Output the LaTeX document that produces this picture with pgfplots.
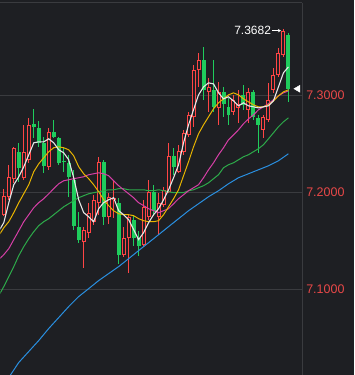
\documentclass[border=0pt]{standalone}
\usepackage{pgfplots}
\pgfplotsset{compat=1.18}
\usepackage{pgfplotstable}
\usetikzlibrary{arrows.meta}
\usepackage{fontspec}
\setmainfont{Liberation Sans}
\definecolor{bg}{HTML}{1E1F23}
\definecolor{gridc}{HTML}{3A3B3F}
\definecolor{upred}{HTML}{FF4545}
\definecolor{dngreen}{HTML}{1FCC5C}
\definecolor{lblred}{HTML}{E84848}
\definecolor{maA}{HTML}{E6E6E6}
\definecolor{maB}{HTML}{E8B400}
\definecolor{maC}{HTML}{D63FA6}
\definecolor{maD}{HTML}{2DAA4A}
\definecolor{maE}{HTML}{2A8FE0}

\pgfplotstableread{
i o h l c
0 7.1770 7.2038 7.1760 7.1958
1 7.1955 7.2285 7.1924 7.2161
2 7.2141 7.2470 7.2099 7.2460
4 7.2151 7.2696 7.2130 7.2419
5 7.2336 7.2768 7.2305 7.2696
9 7.2264 7.2666 7.2233 7.2624
16 7.1492 7.1647 7.1225 7.1616
17 7.1585 7.1894 7.1533 7.1791
18 7.1698 7.1976 7.1667 7.1924
19 7.1894 7.2367 7.1770 7.2316
21 7.1749 7.1997 7.1677 7.1955
22 7.1924 7.2130 7.1739 7.1945
24 7.1358 7.1647 7.1338 7.1533
25 7.1533 7.1770 7.1173 7.1749
28 7.1461 7.1924 7.1441 7.1852
29 7.1749 7.2130 7.1719 7.2007
31 7.1749 7.1997 7.1564 7.1894
32 7.1873 7.2058 7.1852 7.2027
33 7.2007 7.2511 7.1997 7.2377
35 7.2213 7.2491 7.2202 7.2429
36 7.2419 7.2645 7.2388 7.2614
37 7.2593 7.2830 7.2573 7.2799
38 7.2779 7.3314 7.2676 7.3262
39 7.3262 7.3437 7.3087 7.3365
41 7.3036 7.3180 7.2830 7.3087
43 7.2871 7.3139 7.2696 7.3036
46 7.2830 7.3005 7.2799 7.2954
47 7.2871 7.3057 7.2717 7.2913
49 7.2851 7.3077 7.2717 7.3036
52 7.2645 7.2799 7.2563 7.2779
53 7.2748 7.3129 7.2727 7.2954
54 7.3057 7.3283 7.3026 7.3211
55 7.3211 7.3489 7.3190 7.3437
56 7.3417 7.3682 7.3396 7.3664
}\up

\pgfplotstableread{
i o h l c
3 7.2419 7.2511 7.2110 7.2254
6 7.2707 7.2861 7.2563 7.2676
7 7.2666 7.2738 7.2470 7.2511
8 7.2511 7.2573 7.2202 7.2274
10 7.2624 7.2748 7.2563 7.2573
11 7.2563 7.2573 7.2285 7.2305
12 7.2326 7.2470 7.2213 7.2316
13 7.2305 7.2388 7.1955 7.2161
14 7.2130 7.2233 7.1616 7.1657
15 7.1647 7.1801 7.1482 7.1513
20 7.2316 7.2336 7.1667 7.1749
23 7.1894 7.1945 7.1266 7.1358
26 7.1719 7.1770 7.1451 7.1533
27 7.1533 7.1605 7.1348 7.1451
30 7.2007 7.2079 7.1760 7.1811
34 7.2377 7.2460 7.2182 7.2264
40 7.3365 7.3499 7.2954 7.3057
42 7.3057 7.3365 7.2830 7.2882
44 7.3036 7.3087 7.2779 7.2913
45 7.2882 7.2974 7.2696 7.2799
48 7.3005 7.3108 7.2851 7.2902
50 7.3036 7.3057 7.2748 7.2779
51 7.2768 7.2799 7.2408 7.2696
57 7.3623 7.3643 7.2933 7.3068
}\down

\begin{document}
\begin{tikzpicture}
\fill[bg] (0,0) rectangle (354bp,375bp);
\begin{axis}[at={(0,0)}, anchor=south west, scale only axis,
  width=302bp, height=372bp,
  xmin=-0.66, xmax=59.74, ymin=7.0123, ymax=7.3952,
  axis line style={draw=none}, xtick=\empty, ytick={7.1,7.2,7.3},
  yticklabel pos=right, ymajorgrids,
  grid style={draw=gridc, line width=1bp},
  major tick length=0pt,
  yticklabel style={text=lblred, font=\fontsize{12.5bp}{14bp}\selectfont,
    anchor=west, inner sep=0pt, xshift=4bp,
    /pgf/number format/fixed, /pgf/number format/fixed zerofill,
    /pgf/number format/precision=4, /pgf/number format/assume math mode=true},
  clip mode=individual,
]
% wicks
\addplot[draw=none, mark=none, forget plot,
  error bars/.cd, y dir=plus, y explicit, error mark=none,
  error bar style={draw=upred, line width=1bp, solid}]
  table[x=i, y=l, y error plus expr=\thisrow{h}-\thisrow{l}] {\up};
\addplot[draw=none, mark=none, forget plot,
  error bars/.cd, y dir=plus, y explicit, error mark=none,
  error bar style={draw=dngreen, line width=1bp, solid}]
  table[x=i, y=l, y error plus expr=\thisrow{h}-\thisrow{l}] {\down};
% up bodies (hollow)
\addplot[draw=none, mark=none, forget plot,
  error bars/.cd, y dir=plus, y explicit, error mark=none,
  error bar style={draw=upred, line width=4bp, solid}]
  table[x=i, y=o, y error plus expr=\thisrow{c}-\thisrow{o}] {\up};
\addplot[draw=none, mark=none, forget plot,
  error bars/.cd, y dir=plus, y explicit, error mark=none,
  error bar style={draw=bg, line width=2bp, solid}]
  table[x=i, y expr=\thisrow{o}+0.00103, y error plus expr={max(\thisrow{c}-\thisrow{o}-0.00206,0)}] {\up};
% down bodies (filled)
\addplot[draw=none, mark=none, forget plot,
  error bars/.cd, y dir=plus, y explicit, error mark=none,
  error bar style={draw=dngreen, line width=4bp, solid}]
  table[x=i, y=c, y error plus expr=\thisrow{o}-\thisrow{c}] {\down};

% MA lines
\addplot[maE, line width=1bp, mark=none] table {
-1 6.9989
1 7.0092
3 7.0247
5 7.0360
7 7.0473
9 7.0597
11 7.0710
13 7.0823
15 7.0926
17 7.1008
19 7.1091
21 7.1163
23 7.1235
25 7.1317
27 7.1400
29 7.1482
31 7.1564
33 7.1647
35 7.1729
37 7.1811
39 7.1883
41 7.1955
43 7.2017
45 7.2089
47 7.2151
49 7.2192
51 7.2233
53 7.2274
55 7.2326
57 7.2398
};
\addplot[maD, line width=1bp, mark=none] table {
-1 7.0936
0 7.1029
1 7.1132
2 7.1235
3 7.1348
4 7.1441
5 7.1523
6 7.1595
7 7.1657
8 7.1698
9 7.1729
10 7.1770
11 7.1811
12 7.1852
13 7.1883
14 7.1914
15 7.1945
16 7.1966
17 7.1986
18 7.1997
19 7.2007
20 7.2017
21 7.2027
22 7.2027
23 7.2038
24 7.2038
25 7.2027
26 7.2027
27 7.2027
28 7.2027
29 7.2017
30 7.2017
31 7.2027
32 7.2017
33 7.2007
34 7.1997
35 7.1997
36 7.1997
37 7.2017
38 7.2027
39 7.2048
40 7.2069
41 7.2099
42 7.2141
43 7.2182
44 7.2254
45 7.2285
46 7.2305
47 7.2336
48 7.2367
49 7.2388
50 7.2419
51 7.2450
52 7.2491
53 7.2552
54 7.2614
55 7.2676
56 7.2727
57 7.2768
};
\addplot[maC, line width=1bp, mark=none] table {
-1 7.1307
0 7.1358
1 7.1420
2 7.1513
3 7.1605
4 7.1698
5 7.1770
6 7.1842
7 7.1894
8 7.1935
9 7.1986
10 7.2038
11 7.2089
12 7.2120
13 7.2130
14 7.2141
15 7.2151
16 7.2161
17 7.2182
18 7.2192
19 7.2202
20 7.2192
21 7.2172
22 7.2120
23 7.2069
24 7.2027
25 7.1986
26 7.1945
27 7.1894
28 7.1863
29 7.1832
30 7.1811
31 7.1791
32 7.1811
33 7.1832
34 7.1883
35 7.1935
36 7.1976
37 7.2017
38 7.2048
39 7.2079
40 7.2151
41 7.2233
42 7.2305
43 7.2388
44 7.2460
45 7.2542
46 7.2593
47 7.2645
48 7.2707
49 7.2758
50 7.2799
51 7.2851
52 7.2882
53 7.2913
54 7.2954
55 7.2995
56 7.3026
57 7.3046
};
\addplot[maB, line width=1bp, mark=none] table {
-1 7.1554
0 7.1636
1 7.1698
2 7.1791
3 7.1894
4 7.1986
5 7.2079
6 7.2213
7 7.2295
8 7.2357
9 7.2419
10 7.2460
11 7.2470
12 7.2460
13 7.2439
14 7.2377
15 7.2264
16 7.2192
17 7.2141
18 7.2079
19 7.2007
20 7.1924
21 7.1863
22 7.1811
23 7.1780
24 7.1770
25 7.1770
26 7.1760
27 7.1729
28 7.1708
29 7.1698
30 7.1698
31 7.1708
32 7.1770
33 7.1852
34 7.1935
35 7.2027
36 7.2172
37 7.2316
38 7.2470
39 7.2604
40 7.2696
41 7.2779
42 7.2861
43 7.2923
44 7.2964
45 7.3005
46 7.3026
47 7.3005
48 7.2964
49 7.2933
50 7.2902
51 7.2882
52 7.2882
53 7.2902
54 7.2943
55 7.2995
56 7.3036
57 7.3057
};
\addplot[maA, line width=1.1bp, mark=none] table {
-1 7.1600
0 7.1688
1 7.1894
2 7.2079
3 7.2161
4 7.2264
5 7.2388
6 7.2511
7 7.2521
8 7.2521
9 7.2552
10 7.2511
11 7.2439
12 7.2408
13 7.2336
14 7.2151
15 7.1924
16 7.1791
17 7.1749
18 7.1698
19 7.1832
20 7.1894
21 7.1924
22 7.1945
23 7.1811
24 7.1770
25 7.1719
26 7.1616
27 7.1513
28 7.1585
29 7.1688
30 7.1770
31 7.1832
32 7.1924
33 7.2027
34 7.2151
35 7.2285
36 7.2511
37 7.2696
38 7.2851
39 7.3005
40 7.3087
41 7.3129
42 7.3118
43 7.3026
44 7.2964
45 7.2985
46 7.2943
47 7.2892
48 7.2923
49 7.2892
50 7.2882
51 7.2871
52 7.2882
53 7.2892
54 7.2943
55 7.3087
56 7.3232
57 7.3293
};
% last price marker
\addplot[only marks, mark=triangle*, mark size=4bp,
  mark options={rotate=90, fill=white, draw=white}] coordinates {(58.9,7.3068)};
% high annotation
\node[anchor=east, text=white, inner sep=0pt, font=\fontsize{12bp}{14bp}\selectfont]
  at (axis cs:53.54,7.3667) {7.3682};
\draw[white, line width=0.8bp, -{Stealth[length=3bp,width=3.5bp]}]
  (axis cs:53.75,7.3667) -- (axis cs:55.5,7.3667);
% frame lines
\draw[gridc, line width=1bp] (rel axis cs:0,1) -- (rel axis cs:1,1);
\draw[gridc, line width=1bp] (rel axis cs:1,1) -- (rel axis cs:1,0);
\end{axis}
\end{tikzpicture}
\end{document}
